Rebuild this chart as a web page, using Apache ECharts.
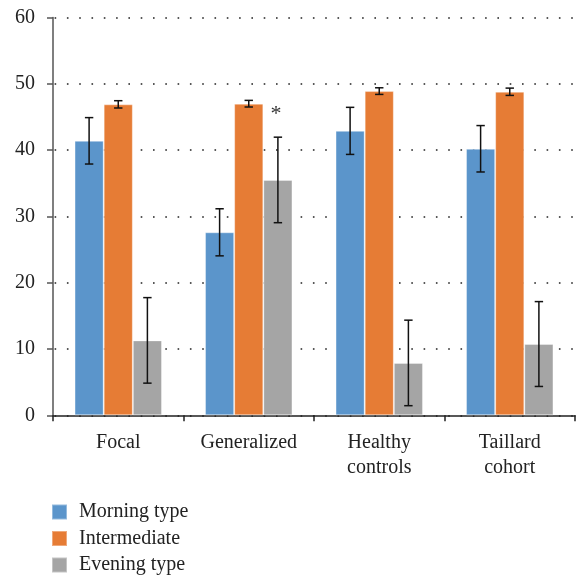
<!DOCTYPE html>
<html><head><meta charset="utf-8">
<script src="https://cdn.jsdelivr.net/npm/echarts@6/dist/echarts.min.js"></script>
<style>html,body{margin:0;padding:0;background:#fff}#c{width:576px;height:578px}</style>
</head><body><div id="c"></div>
<script>
const categories = ['Focal', 'Generalized', 'Healthy\ncontrols', 'Taillard\ncohort'];
const seriesNames = ['Morning type', 'Intermediate', 'Evening type'];
const morning = [41.4, 27.6, 42.9, 40.2];
const morningErr = [3.5, 3.55, 3.55, 3.5];
const intermediate = [46.9, 47.0, 48.9, 48.8];
const intermediateErr = [0.55, 0.5, 0.5, 0.55];
const evening = [11.3, 35.5, 7.9, 10.75];
const eveningErr = [6.45, 6.45, 6.45, 6.4];
const eveningMarks = ['', '*', '', ''];
const yTicks = [0, 10, 20, 30, 40, 50, 60];

const colors = ['#5b95cb', '#e67c35', '#a5a5a5'];
const FONT = 'Liberation Serif';
const values = [morning, intermediate, evening];
const errs = [morningErr, intermediateErr, eveningErr];
const marks = [['', '', '', ''], ['', '', '', ''], eveningMarks];

const chart = echarts.init(document.getElementById('c'), null, {renderer: 'canvas'});

function errorSeries(k) {
  const data = values[k].map((v, i) => [i, v, errs[k][i], marks[k][i]]);
  return {
    type: 'custom',
    name: seriesNames[k] + ' err',
    z: 5,
    data: data,
    renderItem: function (params, api) {
      const i = api.value(0), v = api.value(1), e = api.value(2);
      const m = data[params.dataIndex][3];
      const catW = api.size([1, 0])[0];
      const bw = catW * 0.67 / 3;
      const c = api.coord([i, v]);
      const x = c[0] + (k - 1) * bw;
      const yt = api.coord([i, v + e])[1];
      const yb = api.coord([i, v - e])[1];
      const cap = 4.2;
      const st = {stroke: '#111', lineWidth: 1.5};
      const children = [
        {type: 'line', shape: {x1: x, y1: yt, x2: x, y2: yb}, style: st},
        {type: 'line', shape: {x1: x - cap, y1: yt, x2: x + cap, y2: yt}, style: st},
        {type: 'line', shape: {x1: x - cap, y1: yb, x2: x + cap, y2: yb}, style: st}
      ];
      if (m) {
        children.push({type: 'text', style: {text: m, x: x - 2, y: yt - 22.5, fill: '#333', font: '22px ' + FONT, textAlign: 'center', textVerticalAlign: 'middle'}});
      }
      return {type: 'group', children: children};
    }
  };
}

const series = [];
for (let k = 0; k < 3; k++) {
  series.push({
    type: 'bar',
    name: seriesNames[k],
    data: values[k],
    barGap: '0%',
    barCategoryGap: '33%',
    itemStyle: {color: colors[k], borderColor: 'rgba(255,255,255,0.35)', borderWidth: 1},
    z: 3
  });
}
for (let k = 0; k < 3; k++) series.push(errorSeries(k));

chart.setOption({
  animation: false,
  textStyle: {fontFamily: FONT},
  grid: {left: 53, right: 1, top: 17.5, bottom: 162.7, containLabel: false},
  legend: {
    data: seriesNames,
    orient: 'vertical',
    left: 51,
    top: 502,
    padding: 0,
    height: 120,
    itemWidth: 15,
    itemHeight: 15,
    itemGap: 6.5,
    icon: 'rect',
    textStyle: {fontFamily: FONT, fontSize: 20, lineHeight: 20, color: '#222', padding: [0, 0, 0, 7]}
  },
  xAxis: {
    type: 'category',
    data: categories,
    axisLine: {lineStyle: {color: '#222', width: 1.5}},
    axisTick: {show: true, length: 6, lineStyle: {color: '#222', width: 1.5}},
    axisLabel: {fontFamily: FONT, fontSize: 20, color: '#222', margin: 15, lineHeight: 25},
    splitLine: {show: false}
  },
  yAxis: {
    type: 'value',
    min: yTicks[0],
    max: yTicks[yTicks.length - 1],
    interval: 10,
    axisLine: {show: true, lineStyle: {color: '#555', width: 1.5}},
    axisTick: {show: true, length: 6, lineStyle: {color: '#555', width: 1.5}},
    axisLabel: {fontFamily: FONT, fontSize: 20, color: '#222', margin: 18},
    splitLine: {show: true, lineStyle: {color: '#222', width: 1.6, type: [1.6, 10.7], dashOffset: 10.7}}
  },
  series: series
});
</script></body></html>
